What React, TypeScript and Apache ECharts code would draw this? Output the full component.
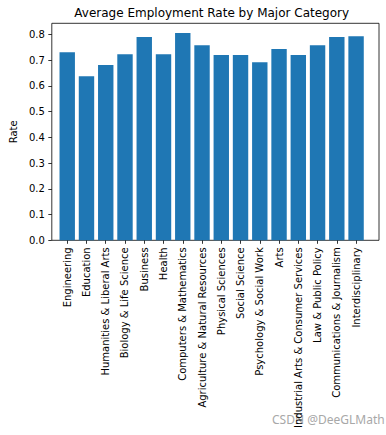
import React, { useEffect, useRef } from "react";
import * as echarts from "echarts";

const categories = [
  "Engineering",
  "Education",
  "Humanities & Liberal Arts",
  "Biology & Life Science",
  "Business",
  "Health",
  "Computers & Mathematics",
  "Agriculture & Natural Resources",
  "Physical Sciences",
  "Social Science",
  "Psychology & Social Work",
  "Arts",
  "Industrial Arts & Consumer Services",
  "Law & Public Policy",
  "Communications & Journalism",
  "Interdisciplinary",
];
const rates = [0.731, 0.637, 0.681, 0.723, 0.79, 0.723, 0.805, 0.758, 0.72, 0.72, 0.692, 0.743, 0.72, 0.758, 0.79, 0.793];
const yTicks = [0, 0.1, 0.2, 0.3, 0.4, 0.5, 0.6, 0.7, 0.8];
const title = "Average Employment Rate by Major Category";
const yName = "Rate";
const watermark = "CSDN @DeeGLMath";

const FONT = "DejaVu Sans";

export default function App() {
  const ref = useRef<HTMLDivElement>(null);
  useEffect(() => {
    const chart = echarts.init(ref.current!, null, { renderer: "svg" });
    const yMax = 0.843;
    const top = 23.3;
    const bottom = 435 - 240.3;
    chart.setOption({
      animation: false,
      backgroundColor: "#fff",
      grid: [
        { left: 44.3, right: 7, top, bottom, show: true, borderColor: "#000", borderWidth: 0.8, backgroundColor: "transparent", containLabel: false },
        { left: 57.6, width: 308.1, top, bottom, containLabel: false },
      ],
      xAxis: [
        { type: "value", gridIndex: 0, min: 0, max: 1, show: false },
        {
          type: "category",
          gridIndex: 1,
          data: categories,
          axisLine: { show: false },
          axisTick: { show: true, alignWithLabel: true, length: 3.5, lineStyle: { color: "#000", width: 0.8 } },
          axisLabel: { interval: 0, rotate: 90, margin: 7, fontFamily: FONT, fontSize: 10, color: "#000" },
        },
      ],
      yAxis: [
        {
          type: "value",
          gridIndex: 0,
          min: 0,
          max: yMax,
          splitLine: { show: false },
          axisLine: { show: false },
          axisTick: { show: true, length: 3.5, customValues: yTicks, lineStyle: { color: "#000", width: 0.8 } },
          axisLabel: {
            customValues: yTicks,
            margin: 7,
            fontFamily: FONT,
            fontSize: 10,
            color: "#000",
            formatter: (v: number) => v.toFixed(1),
          },
          name: yName,
          nameLocation: "middle",
          nameGap: 27,
          nameTextStyle: { fontFamily: FONT, fontSize: 10, color: "#000" },
        },
        { type: "value", gridIndex: 1, min: 0, max: yMax, show: false },
      ],
      series: [
        {
          type: "bar",
          xAxisIndex: 1,
          yAxisIndex: 1,
          data: rates,
          barWidth: "80%",
          itemStyle: { color: "#1f77b4" },
        },
      ],
      graphic: [
        {
          type: "text",
          x: 211.7,
          y: 13,
          style: {
            text: title,
            fontFamily: FONT,
            fontSize: 12,
            fill: "#000",
            align: "center",
            verticalAlign: "middle",
          },
        },
        {
          type: "text",
          left: 272,
          top: 413,
          style: { text: watermark, fontFamily: "Noto Sans", fontSize: 12, fill: "#a8a8a8" },
        },
      ],
    });
    return () => chart.dispose();
  }, []);
  return <div ref={ref} style={{ position: "fixed", left: 0, top: 0, width: 386, height: 435 }} />;
}
